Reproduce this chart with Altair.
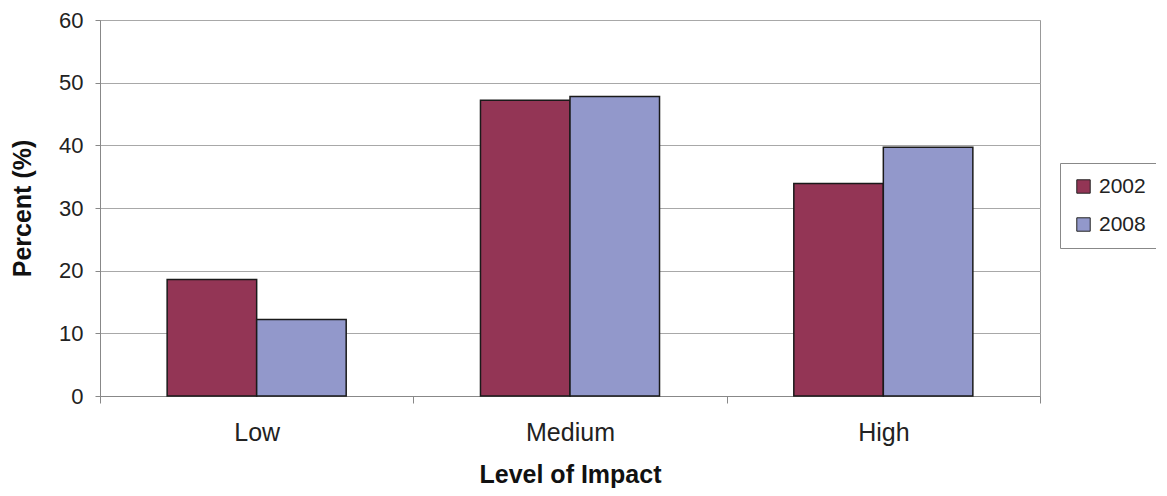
import altair as alt
import pandas as pd

categories = ["Low", "Medium", "High"]
years = ["2002", "2008"]
values_2002 = [18.6, 47.2, 33.9]
values_2008 = [12.2, 47.8, 39.7]
y_ticks = [0, 10, 20, 30, 40, 50, 60]
colors = ["#933555", "#9298CB"]

rows = []
for c, a, b in zip(categories, values_2002, values_2008):
    rows.append({"Level": c, "Year": years[0], "Percent": a})
    rows.append({"Level": c, "Year": years[1], "Percent": b})
df = pd.DataFrame(rows)

FONT = "Liberation Sans"

chart = alt.Chart(df).mark_bar(stroke="#1a1a1a", strokeWidth=1.5).encode(
    x=alt.X(
        "Level:N",
        sort=categories,
        scale=alt.Scale(paddingInner=0, paddingOuter=0),
        axis=alt.Axis(
            title="Level of Impact",
            labelAngle=0,
            tickBand="extent",
            tickSize=7,
            tickColor="#888888",
            domainColor="#888888",
            labelPadding=17,
            labelFontSize=25,
            labelFont=FONT,
            labelColor="#222222",
            titleFontSize=25,
            titleFont=FONT,
            titleFontWeight="bold",
            titleColor="#111111",
            titlePadding=17,
            grid=False,
        ),
    ),
    xOffset=alt.XOffset("Year:N", sort=years, scale=alt.Scale(paddingInner=0, paddingOuter=0.75)),
    y=alt.Y(
        "Percent:Q",
        scale=alt.Scale(domain=[0, 60], nice=False),
        axis=alt.Axis(
            title="Percent (%)",
            values=y_ticks,
            tickSize=5,
            tickColor="#888888",
            domainColor="#888888",
            gridColor="#A8A8A8",
            labelPadding=12,
            labelFontSize=22,
            labelFont=FONT,
            labelColor="#222222",
            titleFontSize=25,
            titleFont=FONT,
            titleFontWeight="bold",
            titleColor="#111111",
            titlePadding=23,
        ),
    ),
    color=alt.Color(
        "Year:N",
        scale=alt.Scale(domain=years, range=colors),
        legend=alt.Legend(
            title=None,
            orient="none",
            legendX=960,
            legendY=143,
            strokeColor="#888888",
            padding=13,
            symbolType="square",
            symbolSize=180,
            symbolStrokeColor="#222222",
            symbolStrokeWidth=1,
            labelFontSize=21,
            labelFont=FONT,
            labelColor="#222222",
            labelOffset=5,
            rowPadding=16,
        ),
    ),
).properties(
    width=940,
    height=376,
    padding={"left": 92, "top": 12, "right": 116, "bottom": 92},
    autosize=alt.AutoSizeParams(type="none"),
).configure_view(stroke="#999999")

chart.save("out.html", embed_options={"renderer": "svg", "actions": False})
